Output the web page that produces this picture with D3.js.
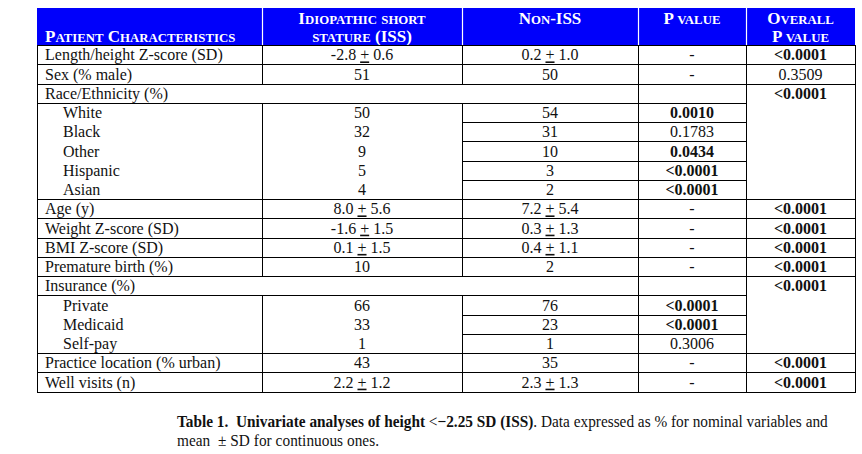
<!DOCTYPE html>
<html>
<head>
<meta charset="utf-8">
<script src="https://cdn.jsdelivr.net/npm/d3@7"></script>
<style>
	body { margin:0; background:#fff; }
	svg { display:block; }
</style>
</head>
<body>
<div id="chart"></div>
<script>

// table content
const rowLabels = ["Length/height Z-score (SD)","Sex (% male)","Race/Ethnicity (%)","White","Black","Other","Hispanic","Asian",
	"Age (y)","Weight Z-score (SD)","BMI Z-score (SD)","Premature birth (%)","Insurance (%)","Private","Medicaid","Self-pay",
	"Practice location (% urban)","Well visits (n)"]
const rowKinds = ["row","row","group","sub","sub","sub","sub","sub","row","row","row","row","group","sub","sub","sub","row","row"]
const issValues = ["-2.8 ± 0.6","51","","50","32","9","5","4","8.0 ± 5.6","-1.6 ± 1.5","0.1 ± 1.5","10","","66","33","1","43","2.2 ± 1.2"]
const nonIssValues = ["0.2 ± 1.0","50","","54","31","10","3","2","7.2 ± 5.4","0.3 ± 1.3","0.4 ± 1.1","2","","76","23","1","35","2.3 ± 1.3"]
const pValues = ["-","-","","0.0010","0.1783","0.0434","<0.0001","<0.0001","-","-","-","-","","<0.0001","<0.0001","0.3006","-","-"]
const overallP = ["<0.0001","0.3509","<0.0001","","","","","","<0.0001","<0.0001","<0.0001","<0.0001","<0.0001","","","","<0.0001","<0.0001"]

const headerLines = [
	["Patient Characteristics"],
	["Idiopathic short","stature (ISS)"],
	["Non-ISS"],
	["P value"],
	["Overall","P value"]
]
const captionLine1 = [["Table 1.\u00a0 Univariate analyses of height ",true],["<",false],["\u22122.25 SD (ISS)",true],[". Data expressed as % for nominal variables and",false]]
const captionLine2 = "mean \u00a0\u00b1 SD for continuous ones."

const W = 862, H = 454
const colEdges = [37,262,462,638,746,855]
const headTop = 8, headBottom = 45
const blue = "#0000fb"
const serif = "'Liberation Serif','Times New Roman',serif"

const svg = d3.select("#chart").append("svg").attr("width",W).attr("height",H)

const y = d3.scaleBand().domain(d3.range(rowLabels.length)).range([headBottom,391.5])
const colLeft = i=>colEdges[i], colMid = i=>(colEdges[i]+colEdges[i+1])/2

const isBold = p=> p.startsWith("<") || (+p < 0.05 && p!="-" && p!="")

// header
svg.append("rect").attr("x",colEdges[0]).attr("y",headTop).attr("width",colEdges[5]-colEdges[0]).attr("height",headBottom-headTop).attr("fill",blue)

function smallCaps(sel,str,big,small){
	// runs of lowercase get the smaller capitals
	const runs = str.match(/[a-z]+|[^a-z]+/g)
	runs.forEach(r=>{
		const low = /[a-z]/.test(r[0])
		sel.append("tspan").attr("font-size",low?small:big).text(r.toUpperCase())
	})
}

headerLines.forEach((lines,c)=>{
	const base = lines.length==1 && c==0 ? [41.5] : (lines.length==1 ? [23.5] : [23.5,41.5])
	lines.forEach((l,k)=>{
		const t = svg.append("text")
			.attr("x", c==0 ? colLeft(0)+8 : colMid(c))
			.attr("y", base[k])
			.attr("text-anchor", c==0 ? "start" : "middle")
			.attr("font-family",serif).attr("font-weight","bold").attr("fill","#fff")
		smallCaps(t,l,17,12.8)
	})
})
svg.selectAll(null).data(colEdges.slice(1,5)).enter().append("line")
	.attr("x1",d=>d+0.5).attr("x2",d=>d+0.5).attr("y1",headTop).attr("y2",headBottom)
	.attr("stroke","#fff").attr("stroke-width",1.2)

// body lines
const grid = svg.append("g").attr("stroke","#000").attr("stroke-width",1).attr("shape-rendering","crispEdges")
const px = v=>Math.round(v)+0.5
grid.append("line").attr("x1",colEdges[0]).attr("x2",colEdges[5]).attr("y1",px(headBottom)).attr("y2",px(headBottom))

rowKinds.forEach((k,i)=>{
	const top = y(i), bot = y(i)+y.bandwidth()
	const next = rowKinds[i+1]
	let x1 = colEdges[0], x2 = colEdges[5]
	if (k=="group"){ x2 = colEdges[4] }
	else if (k=="sub" && next=="sub"){ x1 = colEdges[2]; x2 = colEdges[4] }
	grid.append("line").attr("x1",x1).attr("x2",x2+1).attr("y1",px(bot)).attr("y2",px(bot))
	const verts = k=="group" ? [0,3,4,5] : [0,1,2,3,4,5]
	verts.forEach(v=>{
		grid.append("line").attr("x1",px(colEdges[v])).attr("x2",px(colEdges[v])).attr("y1",Math.round(top)).attr("y2",Math.round(bot)+1)
	})
})

// body text
function valueText(sel,str){
	const parts = str.split(" ± ")
	if (parts.length==2){
		sel.append("tspan").text(parts[0]+" ")
		sel.append("tspan").style("text-decoration","underline").text("+")
		sel.append("tspan").text(" "+parts[1])
	} else sel.text(str)
}

const rows = svg.selectAll("g.row").data(rowLabels).enter().append("g").attr("class","row")
	.attr("transform",(d,i)=>"translate(0,"+(y(i)+15.4)+")")
	.attr("font-family",serif).attr("font-size",16).attr("fill","#111")

rows.append("text").attr("x",(d,i)=>colLeft(0)+(rowKinds[i]=="sub"?26:8)).text(d=>d)
rows.append("text").attr("x",colMid(1)).attr("text-anchor","middle").each(function(d,i){ valueText(d3.select(this),issValues[i]) })
rows.append("text").attr("x",colMid(2)).attr("text-anchor","middle").each(function(d,i){ valueText(d3.select(this),nonIssValues[i]) })
rows.append("text").attr("x",colMid(3)).attr("text-anchor","middle")
	.attr("font-weight",(d,i)=>isBold(pValues[i])?"bold":null).text((d,i)=>pValues[i])
rows.append("text").attr("x",colMid(4)).attr("text-anchor","middle")
	.attr("font-weight",(d,i)=>isBold(overallP[i])?"bold":null).text((d,i)=>overallP[i])

// caption, squeezed horizontally to the width of the original condensed face
const cap = svg.append("g").attr("font-family",serif).attr("font-size",16.5).attr("fill","#111")
const c1 = cap.append("text").attr("y",427.5)
captionLine1.forEach(([s,b])=>c1.append("tspan").attr("font-weight",b?"bold":null).text(s))
const sx = 651/c1.node().getComputedTextLength()
cap.attr("transform","translate(177,0) scale("+sx+",1)")
cap.append("text").attr("y",446.5).attr("textLength",202/sx).attr("lengthAdjust","spacing").text(captionLine2)

</script>
</body>
</html>
